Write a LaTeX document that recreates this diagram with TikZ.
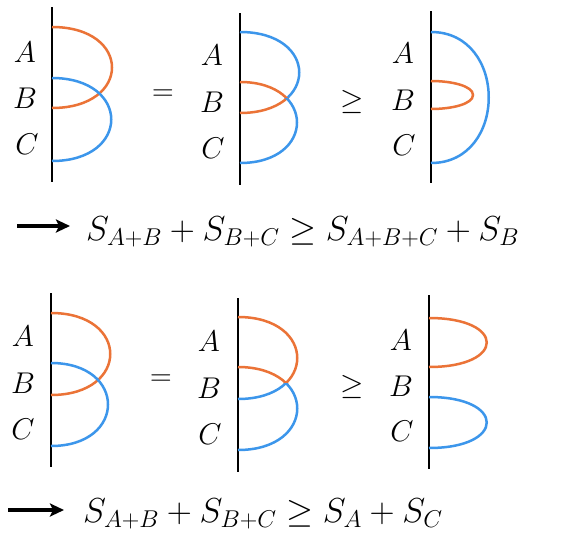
\RequirePackage{fix-cm}
\documentclass[tikz,border=0pt]{standalone}
\usetikzlibrary{arrows.meta,intersections}
\definecolor{myorange}{RGB}{235,115,55}
\definecolor{myblue}{RGB}{60,150,235}
\begin{document}
\begin{tikzpicture}[x=1pt,y=-1pt,
  wall/.style={line width=2.6pt,black},
  oarc/.style={line width=2.5pt,myorange},
  barc/.style={line width=2.5pt,myblue},
  lbl/.style={anchor=base,inner sep=0pt,font=\fontsize{30}{30}\selectfont},
  rel/.style={anchor=center,inner sep=0pt,font=\fontsize{30}{30}\selectfont},
  fml/.style={anchor=base west,inner sep=0pt,font=\fontsize{34.7}{38}\selectfont},
  bigarrow/.style={line width=4pt,-{Stealth[length=14pt,width=13pt,inset=3pt]}}]
\useasboundingbox[fill=white] (0,0) rectangle (571,536);

% ---------- Panel 1 ----------
\coordinate (w1t) at (52,7); \coordinate (w1b) at (52,182);
\draw[wall] (w1t) -- (w1b);
\draw[oarc] (52,27) .. controls (132,27) and (132,108) .. (52,108);
\draw[barc] (52,78) .. controls (131,78) and (131,161) .. (52,161);
\node[lbl] (p1a) at (25,62) {$A$};
\node[lbl] (p1b) at (25,108) {$B$};
\node[lbl] (p1c) at (27,154) {$C$};
\node[rel] (eq1) at (163,95) {$=$};

% ---------- Panel 2 ----------
\coordinate (w2t) at (240,13); \coordinate (w2b) at (240,185);
\draw[wall] (w2t) -- (w2b);
\path[name path=u2] (240,32) .. controls (319,32) and (319,113) .. (240,113);
\path[name path=l2] (240,82) .. controls (316,82) and (316,163) .. (240,163);
\path[name intersections={of=u2 and l2,by=X2}];
\coordinate (L2) at (200,0); \coordinate (R2) at (330,200);
\begin{scope}
  \clip (L2) rectangle (X2 -| R2);
  \draw[barc] (240,32) .. controls (319,32) and (319,113) .. (240,113);
  \draw[oarc] (240,82) .. controls (316,82) and (316,163) .. (240,163);
\end{scope}
\begin{scope}
  \clip (X2 -| L2) rectangle (R2);
  \draw[oarc] (240,32) .. controls (319,32) and (319,113) .. (240,113);
  \draw[barc] (240,82) .. controls (316,82) and (316,163) .. (240,163);
\end{scope}
\node[lbl] (p2a) at (212,65) {$A$};
\node[lbl] (p2b) at (212,112) {$B$};
\node[lbl] (p2c) at (213,158) {$C$};
\node[rel] (ge1) at (352,102) {$\geq$};

% ---------- Panel 3 ----------
\coordinate (w3t) at (431,11); \coordinate (w3b) at (431,183);
\draw[wall] (w3t) -- (w3b);
\draw[barc] (431,32) .. controls (508,32) and (508,163) .. (431,163);
\draw[oarc] (431,81) .. controls (452,81) and (473,86) .. (473,95)
               .. controls (473,104) and (452,109) .. (431,109);
\node[lbl] (p3a) at (403,63) {$A$};
\node[lbl] (p3b) at (403,110) {$B$};
\node[lbl] (p3c) at (404,155) {$C$};

% ---------- Formula 1 ----------
\coordinate (ar1s) at (17,226); \coordinate (ar1e) at (70,226);
\draw[bigarrow] (ar1s) -- (ar1e);
\node[fml] (f1) at (86,240) {$S_{A+B}+S_{B+C}\geq S_{A+B+C}+S_B$};

% ---------- Panel 4 ----------
\coordinate (w4t) at (51,293); \coordinate (w4b) at (51,467);
\draw[wall] (w4t) -- (w4b);
\draw[oarc] (51,313) .. controls (130,313) and (130,395) .. (51,395);
\draw[barc] (51,363) .. controls (127,363) and (127,446) .. (51,446);
\node[lbl] (p4a) at (23,346) {$A$};
\node[lbl] (p4b) at (23,393) {$B$};
\node[lbl] (p4c) at (23,439) {$C$};
\node[rel] (eq2) at (161,380) {$=$};

% ---------- Panel 5 ----------
\coordinate (w5t) at (238,298); \coordinate (w5b) at (238,472);
\draw[wall] (w5t) -- (w5b);
\path[name path=u5] (238,317) .. controls (317,317) and (317,399) .. (238,399);
\path[name path=l5] (238,367) .. controls (317,367) and (317,450) .. (238,450);
\path[name intersections={of=u5 and l5,by=X5}];
\coordinate (L5) at (200,280); \coordinate (R5) at (330,480);
\begin{scope}
  \clip (L5) rectangle (X5 -| R5);
  \draw[oarc] (238,317) .. controls (317,317) and (317,399) .. (238,399);
  \draw[oarc] (238,367) .. controls (317,367) and (317,450) .. (238,450);
\end{scope}
\begin{scope}
  \clip (X5 -| L5) rectangle (R5);
  \draw[barc] (238,317) .. controls (317,317) and (317,399) .. (238,399);
  \draw[barc] (238,367) .. controls (317,367) and (317,450) .. (238,450);
\end{scope}
\node[lbl] (p5a) at (209,351) {$A$};
\node[lbl] (p5b) at (209,398) {$B$};
\node[lbl] (p5c) at (210,444) {$C$};
\node[rel] (ge2) at (352,387) {$\geq$};

% ---------- Panel 6 ----------
\coordinate (w6t) at (429,295); \coordinate (w6b) at (429,469);
\draw[wall] (w6t) -- (w6b);
\draw[oarc] (429,318) .. controls (506,318) and (506,367) .. (429,367);
\draw[barc] (429,397) .. controls (506,397) and (506,448) .. (429,448);
\node[lbl] (p6a) at (401,350) {$A$};
\node[lbl] (p6b) at (401,396) {$B$};
\node[lbl] (p6c) at (402,441) {$C$};

% ---------- Formula 2 ----------
\coordinate (ar2s) at (8,510); \coordinate (ar2e) at (64,510);
\draw[bigarrow] (ar2s) -- (ar2e);
\node[fml] (f2) at (83,522) {$S_{A+B}+S_{B+C}\geq S_A+S_C$};
\end{tikzpicture}
\end{document}
